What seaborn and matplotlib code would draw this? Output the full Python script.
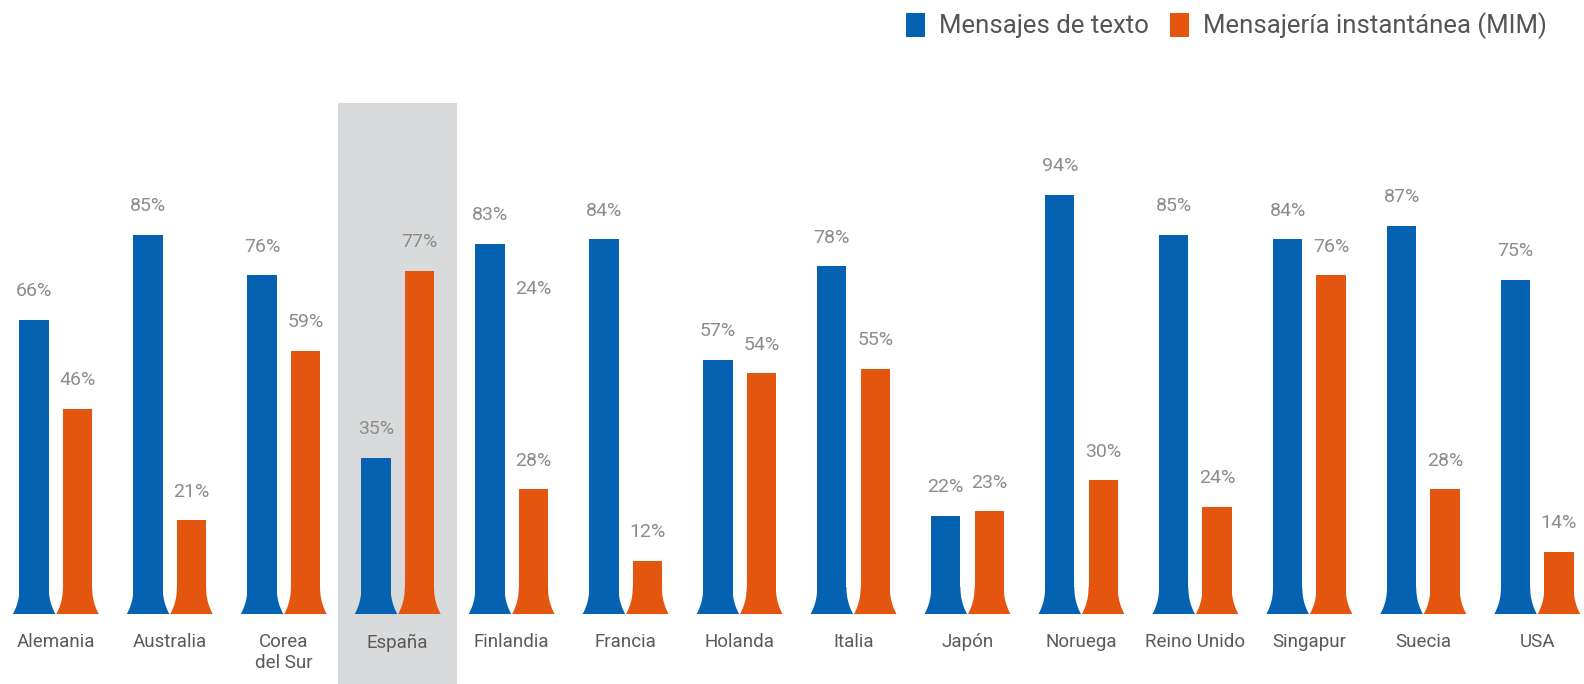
import numpy as np
import pandas as pd
import matplotlib
matplotlib.use("Agg")
import matplotlib.pyplot as plt
from matplotlib.patches import Rectangle, Polygon
import seaborn as sns

# Share of users by messaging channel, per country (%)
countries = ["Alemania", "Australia", "Corea\ndel Sur", "España", "Finlandia",
             "Francia", "Holanda", "Italia", "Japón", "Noruega",
             "Reino Unido", "Singapur", "Suecia", "USA"]
sms = [66, 85, 76, 35, 83, 84, 57, 78, 22, 94, 85, 84, 87, 75]
mim = [46, 21, 59, 77, 28, 12, 54, 55, 23, 30, 24, 76, 28, 14]
series_names = ["Mensajes de texto", "Mensajería instantánea (MIM)"]
highlight = "España"
# loose label printed beside the Finlandia bars
stray_label = ("Finlandia", 73, "24%")

BLUE = "#0562b0"
ORANGE = "#e4560f"
BAND = "#d9dadb"
VAL_GRAY = "#8c8c8c"
CAT_GRAY = "#5a5a5a"

df = pd.DataFrame({
    "país": countries * 2,
    "valor": sms + mim,
    "serie": [series_names[0]] * len(countries) + [series_names[1]] * len(countries),
})

sns.set_theme(style="white")
plt.rcParams["font.family"] = ["Roboto", "DejaVu Sans"]

fig = plt.figure(figsize=(15.84, 6.84), dpi=100)
ax = fig.add_axes([0.0, 0.1023, 1.0, 0.8977])

sns.barplot(data=df, x="país", y="valor", hue="serie", order=countries,
            hue_order=series_names, palette=[BLUE, ORANGE], width=0.762,
            gap=0.325, saturation=1, errorbar=None, legend=False, ax=ax,
            linewidth=0, edgecolor="none", zorder=2)

ax.set_xlim(-0.49, 13.41)
ax.set_ylim(0, 137.7)
for s in ax.spines.values():
    s.set_visible(False)
ax.set_yticks([])
ax.set_xlabel("")
ax.set_ylabel("")
ax.tick_params(axis="x", length=0, pad=14, labelsize=13.5, labelcolor=CAT_GRAY)
ax.xaxis.set_zorder(1.5)

# shaded column behind the highlighted country
hi = countries.index(highlight)
ax.add_patch(Rectangle((hi - 0.52, -20), 1.04, 20 + 114.5, facecolor=BAND,
                       edgecolor="none", zorder=0, clip_on=False))

# flared feet and value labels on every bar
flare_h = 6.0
flare_w = 0.058
t = np.linspace(0, 1, 40)
bars = [p for p in ax.patches if isinstance(p, Rectangle) and p.get_height() > 0
        and p.get_zorder() > 1]
for bar in bars:
    x0 = bar.get_x()
    w = bar.get_width()
    h = bar.get_height()
    fc = bar.get_facecolor()
    fh = min(flare_h, h)
    extra = flare_w * (1 - t) ** 2.2
    ys = t * fh
    left = np.column_stack([x0 - extra, ys])
    right = np.column_stack([x0 + w + extra, ys])[::-1]
    ax.add_patch(Polygon(np.vstack([left, right]), closed=True, facecolor=fc,
                         edgecolor="none", linewidth=0, zorder=2, clip_on=False))
    ax.annotate(f"{h:.0f}%", (x0 + w / 2, h), xytext=(0, 17), textcoords="offset points",
                ha="center", va="baseline", fontsize=14, color=VAL_GRAY)

# stray label
si = countries.index(stray_label[0])
ax.text(si + 0.19, stray_label[1], stray_label[2], ha="center", va="center",
        fontsize=14, color=VAL_GRAY)

# legend
handles = [Rectangle((0, 0), 1, 1, facecolor=c, edgecolor="none") for c in (BLUE, ORANGE)]
leg = fig.legend(handles, series_names, loc="upper right", bbox_to_anchor=(0.988, 1.008),
                 ncol=2, frameon=False, fontsize=18.5, handlelength=0.75, handleheight=1.05,
                 handletextpad=0.55, columnspacing=0.8, borderaxespad=0.3)
for txt in leg.get_texts():
    txt.set_color("#555555")

fig.savefig("out.png", dpi=100)
